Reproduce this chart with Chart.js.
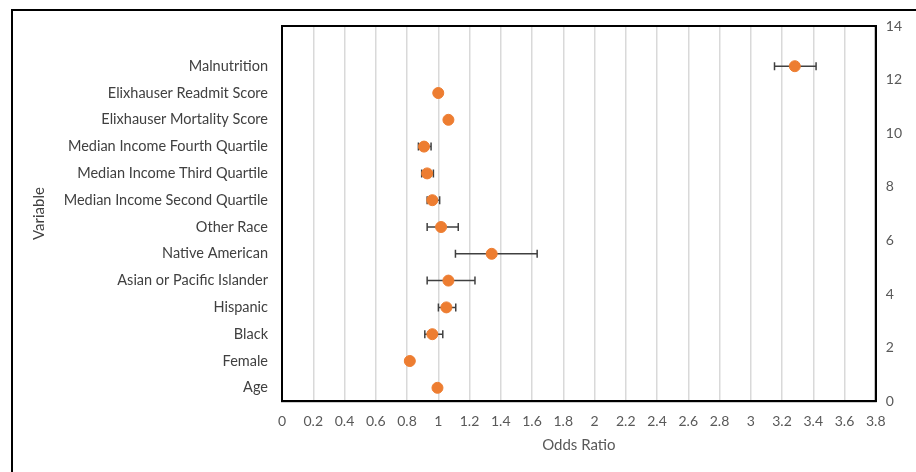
<!DOCTYPE html>
<html>
<head>
<meta charset="utf-8">
<script src="https://cdn.jsdelivr.net/npm/chart.js@4"></script>
<style>
  html, body { margin: 0; padding: 0; background: #fff; overflow: hidden; }
  #wrap { position: relative; width: 916px; height: 472px; }
  #frame { position: absolute; left: 11px; top: 9px; width: 1000px; height: 1000px; border: 2px solid #000; box-sizing: border-box; pointer-events: none; }
  canvas { position: absolute; left: 0; top: 0; }
</style>
</head>
<body>
<div id="wrap">
  <canvas id="c" width="916" height="472"></canvas>
  <div id="frame"></div>
</div>
<script>
// Data (bottom row to top row)
const categories = ["Age", "Female", "Black", "Hispanic", "Asian or Pacific Islander", "Native American", "Other Race",
  "Median Income Second Quartile", "Median Income Third Quartile", "Median Income Fourth Quartile",
  "Elixhauser Mortality Score", "Elixhauser Readmit Score", "Malnutrition"];
const yValues   = [0.5, 1.5, 2.5, 3.5, 4.5, 5.5, 6.5, 7.5, 8.5, 9.5, 10.5, 11.5, 12.5];
const oddsRatio = [0.995, 0.818, 0.962, 1.052, 1.065, 1.342, 1.018, 0.962, 0.929, 0.909, 1.065, 1.0, 3.282];
const ciLower   = [0.99, 0.81, 0.914, 1.001, 0.929, 1.110, 0.929, 0.929, 0.894, 0.873, 1.06, 0.995, 3.152];
const ciUpper   = [1.00, 0.826, 1.029, 1.112, 1.235, 1.633, 1.128, 1.009, 0.969, 0.954, 1.07, 1.005, 3.418];
const xTicksMax = 3.8;
const rightTicksMax = 14;

const points = oddsRatio.map((v, i) => ({ x: v, y: yValues[i] }));
const errData = [];
ciLower.forEach((lo, i) => {
  errData.push({ x: lo, y: yValues[i] });
  errData.push({ x: ciUpper[i], y: yValues[i] });
  errData.push({ x: null, y: null });
});

const fontFam = "Lato, 'Open Sans', sans-serif";

const boxPlugin = {
  id: 'box',
  afterDraw(chart) {
    const a = chart.chartArea, ctx = chart.ctx;
    ctx.save();
    ctx.strokeStyle = '#000';
    ctx.lineWidth = 2;
    ctx.strokeRect(a.left, a.top, a.right - a.left, a.bottom - a.top);
    ctx.restore();
  }
};

new Chart(document.getElementById('c'), {
  type: 'scatter',
  data: {
    datasets: [
      {
        label: 'CI',
        data: errData,
        showLine: true,
        spanGaps: false,
        borderColor: '#404040',
        borderWidth: 1.5,
        pointStyle: 'line',
        rotation: 90,
        pointRadius: 4,
        pointBorderColor: '#404040',
        pointBorderWidth: 1.5,
        pointHoverRadius: 4,
        order: 2
      },
      {
        label: 'Odds Ratio',
        data: points,
        backgroundColor: '#ED7D31',
        borderColor: '#ED7D31',
        pointRadius: 5.5,
        pointHoverRadius: 5.5,
        order: 1
      }
    ]
  },
  options: {
    responsive: false,
    animation: false,
    layout: { padding: { top: 26, right: 4, bottom: 14, left: 30 } },
    plugins: { legend: { display: false }, tooltip: { enabled: false } },
    scales: {
      x: {
        type: 'linear',
        min: 0,
        max: xTicksMax,
        ticks: {
          stepSize: 0.2,
          color: '#595959',
          font: { family: fontFam, size: 14 },
          padding: 12,
          maxRotation: 0,
          autoSkip: false,
          callback: v => String(Number(v.toFixed(1)))
        },
        grid: { color: '#d9d9d9', lineWidth: 1.5, drawTicks: false },
        border: { color: '#000', width: 2 },
        title: { display: true, text: 'Odds Ratio', color: '#595959', font: { family: fontFam, size: 15 }, padding: { top: -6 } }
      },
      y: {
        type: 'linear',
        position: 'left',
        min: 0,
        max: rightTicksMax,
        afterBuildTicks: axis => { axis.ticks = yValues.map(v => ({ value: v })); },
        afterFit: axis => { axis.width = 252; },
        ticks: {
          color: '#404040',
          font: { family: fontFam, size: 14.5 },
          padding: 14,
          autoSkip: false,
          callback: (v) => { const i = yValues.indexOf(v); return i >= 0 ? categories[i] : ''; }
        },
        grid: { display: false, drawTicks: false },
        border: { color: '#000', width: 2 },
        title: { display: true, text: 'Variable', color: '#404040', font: { family: fontFam, size: 15 }, padding: { top: 0, bottom: 10 } }
      },
      y2: {
        type: 'linear',
        position: 'right',
        min: 0,
        max: rightTicksMax,
        ticks: { stepSize: 2, color: '#595959', font: { family: fontFam, size: 14 }, padding: 10 },
        grid: { display: false, drawTicks: false },
        border: { color: '#000', width: 2 }
      }
    }
  },
  plugins: [boxPlugin]
});
</script>
</body>
</html>
